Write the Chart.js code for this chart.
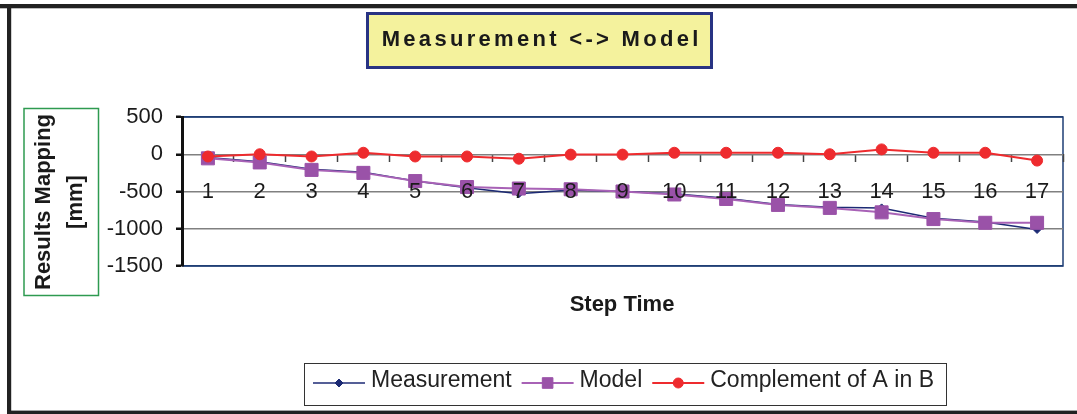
<!DOCTYPE html>
<html>
<head>
<meta charset="utf-8">
<script src="https://cdn.jsdelivr.net/npm/chart.js@4.4.1/dist/chart.umd.min.js"></script>
<style>
  html, body { margin: 0; padding: 0; background: #fff; }
  #wrap { width: 1077px; height: 414px; position: relative; }
</style>
</head>
<body>
<div id="wrap"><canvas id="c" width="1077" height="414"></canvas></div>
<script>
// Step numbers along the category axis
const categories = ['1','2','3','4','5','6','7','8','9','10','11','12','13','14','15','16','17'];
// Mapping results in mm for each step
const measurement = [-45, -100, -200, -240, -360, -450, -530, -480, -500, -530, -590, -675, -710, -720, -860, -910, -1010];
const model       = [-55, -110, -210, -250, -360, -440, -460, -470, -500, -540, -600, -680, -720, -780, -870, -920, -920];
const complement  = [-30, 0, -30, 20, -30, -30, -60, -5, -5, 20, 20, 20, 0, 65, 20, 20, -85];
// Value axis ticks
const yTickValues = [500, 0, -500, -1000, -1500];

const chartTitle = 'Measurement <-> Model';
const yTitleLines = ['Results Mapping', '[mm]'];
const xTitle = 'Step Time';
const seriesNames = ['Measurement', 'Model', 'Complement of A in B'];

const NAVY = '#1c2a74';
const PURPLE_LINE = '#a862b6';
const PURPLE_FILL = '#9a52a8';
const RED = '#ee2b2e';
const FONT = '"Liberation Sans", Arial, sans-serif';

const seriesStyles = [
  { line: NAVY, fill: NAVY, pointStyle: 'rectRot', radius: 4, legendRadius: 4, lineWidth: 1.5 },
  { line: PURPLE_LINE, fill: PURPLE_FILL, pointStyle: 'rect', radius: 9.2, legendRadius: 7.5, lineWidth: 2 },
  { line: RED, fill: RED, pointStyle: 'circle', radius: 5.5, legendRadius: 5, lineWidth: 2 }
];

// Frame, title box, axis caption box and legend drawn around the plot
const decorations = {
  id: 'decorations',
  beforeDraw(chart) {
    const ctx = chart.ctx;
    const a = chart.chartArea;
    ctx.save();
    ctx.strokeStyle = '#1f3f75';
    ctx.lineWidth = 1.5;
    ctx.beginPath();
    ctx.moveTo(a.left, a.top);
    ctx.lineTo(a.right, a.top);
    ctx.lineTo(a.right, a.bottom);
    ctx.lineTo(a.left, a.bottom);
    ctx.stroke();
    ctx.restore();
  },
  afterDraw(chart) {
    const ctx = chart.ctx;
    const H = Chart.helpers;
    ctx.save();

    // outer frame
    ctx.fillStyle = '#222';
    ctx.fillRect(0, 4, 1077, 4.3);
    ctx.fillRect(7, 4, 4.2, 410);
    ctx.fillRect(7, 410.6, 1070, 3.4);

    // title box
    ctx.fillStyle = '#f4f29d';
    ctx.fillRect(366, 12, 347, 57);
    ctx.strokeStyle = '#283383';
    ctx.lineWidth = 3;
    ctx.strokeRect(367.5, 13.5, 344, 54);
    ctx.fillStyle = '#1a1a1a';
    ctx.font = 'bold 22px ' + FONT;
    ctx.letterSpacing = '3.3px';
    ctx.textBaseline = 'middle';
    ctx.textAlign = 'left';
    const tw = ctx.measureText(chartTitle).width - 3.3;
    ctx.fillText(chartTitle, 540 - tw / 2, 40);
    ctx.letterSpacing = '0px';

    // value axis caption box
    ctx.strokeStyle = '#2e9a50';
    ctx.lineWidth = 1.5;
    ctx.strokeRect(24, 108.5, 74.5, 187);
    ctx.fillStyle = '#1a1a1a';
    ctx.font = 'bold 22px ' + FONT;
    ctx.textAlign = 'center';
    ctx.textBaseline = 'middle';
    const capX = [44, 76];
    yTitleLines.forEach((line, i) => {
      ctx.save();
      ctx.translate(capX[i], 202);
      ctx.rotate(-Math.PI / 2);
      ctx.fillText(line, 0, 0);
      ctx.restore();
    });

    // category axis caption
    ctx.fillText(xTitle, 622, 305);

    // legend
    ctx.strokeStyle = '#333';
    ctx.lineWidth = 1;
    ctx.strokeRect(304.5, 363.5, 642, 42);
    ctx.font = '23px ' + FONT;
    ctx.textAlign = 'left';
    ctx.textBaseline = 'middle';
    let x = 313;
    const ly = 383;
    seriesNames.forEach((name, i) => {
      const s = seriesStyles[i];
      ctx.strokeStyle = s.line;
      ctx.lineWidth = s.lineWidth;
      ctx.beginPath();
      ctx.moveTo(x, ly);
      ctx.lineTo(x + 52, ly);
      ctx.stroke();
      ctx.fillStyle = s.fill;
      ctx.strokeStyle = s.fill;
      ctx.lineWidth = 1;
      H.drawPoint(ctx, {
        pointStyle: s.pointStyle,
        radius: s.legendRadius,
        rotation: 0,
        borderWidth: 1
      }, x + 26, ly);
      ctx.fillStyle = '#222';
      ctx.fillText(name, x + 58, 381);
      x += 58 + ctx.measureText(name).width + 10;
    });
    ctx.restore();
  }
};

const datasets = [measurement, model, complement].map((data, i) => {
  const s = seriesStyles[i];
  return {
    label: seriesNames[i],
    data: data,
    borderColor: s.line,
    backgroundColor: s.fill,
    pointBackgroundColor: s.fill,
    pointBorderColor: s.fill,
    pointBorderWidth: 1,
    pointStyle: s.pointStyle,
    pointRadius: s.radius,
    pointHoverRadius: s.radius,
    borderWidth: s.lineWidth,
    tension: 0,
    fill: false,
    order: 3 - i
  };
});

new Chart(document.getElementById('c'), {
  type: 'line',
  data: { labels: categories, datasets: datasets },
  options: {
    responsive: false,
    devicePixelRatio: 1,
    animation: false,
    layout: { padding: { left: 0, right: 14, top: 117, bottom: 148 } },
    plugins: {
      legend: { display: false },
      title: { display: false },
      tooltip: { enabled: false }
    },
    scales: {
      x: {
        type: 'category',
        position: { y: 0 },
        offset: true,
        grid: {
          offset: true,
          drawOnChartArea: false,
          drawTicks: true,
          tickLength: 8,
          tickColor: '#444',
          tickWidth: 1.5
        },
        border: { display: false },
        ticks: {
          z: 1,
          autoSkip: false,
          maxRotation: 0,
          minRotation: 0,
          padding: 16,
          color: '#1a1a1a',
          font: { family: FONT, size: 22 }
        }
      },
      y: {
        min: -1500,
        max: 500,
        afterFit(scale) { scale.width = 182; },
        afterBuildTicks(scale) { scale.ticks = yTickValues.map(v => ({ value: v })); },
        grid: {
          color: ctx => (ctx.tick && (ctx.tick.value === 500 || ctx.tick.value === -1500)) ? '#1f3f75' : '#808080',
          lineWidth: 1.5,
          drawTicks: true,
          tickLength: 6,
          tickColor: '#111',
          tickWidth: 2.5
        },
        border: { display: true, color: '#111', width: 3 },
        ticks: {
          padding: 13,
          color: '#1a1a1a',
          font: { family: FONT, size: 22 },
          callback: v => String(v)
        }
      }
    }
  },
  plugins: [decorations]
});
</script>
</body>
</html>
